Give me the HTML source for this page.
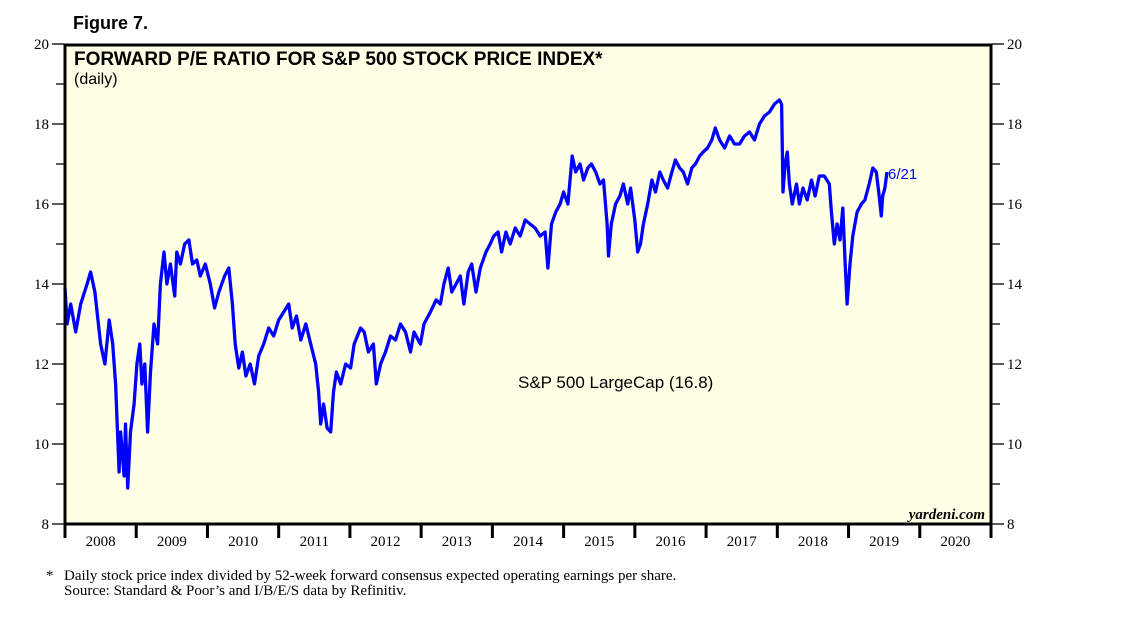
<!DOCTYPE html>
<html><head><meta charset="utf-8"><style>
body{margin:0;background:#fff;width:1138px;height:621px;overflow:hidden}
svg text{font-family:"Liberation Sans",sans-serif}
</style></head><body>
<svg width="1138" height="621" xmlns="http://www.w3.org/2000/svg">
<text x="73" y="29" font-size="18" font-weight="bold">Figure 7.</text>
<rect x="65" y="45" width="926" height="479" fill="#ffffe6"/>
<g id="ticks"></g>
<polyline id="series" fill="none" stroke="#0000ff" stroke-width="3.3" stroke-linejoin="round"/>
<rect x="65" y="45" width="926" height="479" fill="none" stroke="#000" stroke-width="3"/>
<text x="74" y="65" font-size="19" font-weight="bold">FORWARD P/E RATIO FOR S&amp;P 500 STOCK PRICE INDEX*</text>
<text x="74" y="84" font-size="16">(daily)</text>
<text x="518" y="388" font-size="17">S&amp;P 500 LargeCap (16.8)</text>
<text x="888" y="179" font-size="15" fill="#0000ff">6/21</text>
<text x="985" y="519" font-size="15" font-weight="bold" font-style="italic" text-anchor="end" style="font-family:'Liberation Serif',serif">yardeni.com</text>
<text x="46" y="580" font-size="15" style="font-family:'Liberation Serif',serif">*</text>
<text x="64" y="580" font-size="15" style="font-family:'Liberation Serif',serif">Daily stock price index divided by 52-week forward consensus expected operating earnings per share.</text>
<text x="64" y="595" font-size="15" style="font-family:'Liberation Serif',serif">Source: Standard &amp; Poor’s and I/B/E/S data by Refinitiv.</text>
</svg>
<script>
const dates=[2008.00,2008.03,2008.08,2008.15,2008.22,2008.31,2008.36,2008.42,2008.50,2008.56,2008.62,2008.67,2008.71,2008.76,2008.78,2008.83,2008.85,2008.88,2008.92,2008.97,
2009.01,2009.05,2009.08,2009.12,2009.16,2009.20,2009.25,2009.30,2009.34,2009.39,2009.43,2009.48,2009.54,2009.57,2009.62,2009.68,2009.74,2009.79,2009.85,2009.90,2009.97,
2010.04,2010.10,2010.16,2010.24,2010.30,2010.35,2010.39,2010.44,2010.49,2010.54,2010.60,2010.66,2010.72,2010.79,2010.86,2010.93,
2011.00,2011.07,2011.14,2011.19,2011.25,2011.31,2011.38,2011.45,2011.52,2011.56,2011.59,2011.63,2011.68,2011.73,2011.77,2011.81,2011.87,2011.94,
2012.01,2012.06,2012.15,2012.20,2012.26,2012.33,2012.37,2012.43,2012.50,2012.57,2012.64,2012.71,2012.78,2012.85,2012.90,2012.99,
2013.04,2013.13,2013.21,2013.27,2013.32,2013.38,2013.43,2013.49,2013.55,2013.60,2013.66,2013.71,2013.77,2013.83,2013.91,2013.97,
2014.02,2014.08,2014.13,2014.19,2014.25,2014.32,2014.39,2014.46,2014.53,2014.60,2014.67,2014.74,2014.78,2014.83,2014.89,2014.95,
2015.00,2015.06,2015.12,2015.17,2015.23,2015.28,2015.34,2015.39,2015.45,2015.51,2015.56,2015.61,2015.63,2015.67,2015.73,2015.79,2015.84,2015.90,2015.94,
2016.00,2016.04,2016.08,2016.12,2016.18,2016.24,2016.29,2016.35,2016.40,2016.46,2016.52,2016.57,2016.63,2016.68,2016.74,2016.80,2016.85,2016.91,2016.96,
2017.02,2017.08,2017.13,2017.19,2017.26,2017.33,2017.40,2017.47,2017.54,2017.61,2017.68,2017.75,2017.82,2017.89,2017.96,
2018.03,2018.06,2018.08,2018.11,2018.14,2018.17,2018.21,2018.27,2018.31,2018.36,2018.42,2018.48,2018.53,2018.59,2018.66,2018.73,2018.76,2018.80,2018.84,2018.88,2018.92,2018.95,2018.98,
2019.02,2019.06,2019.12,2019.18,2019.23,2019.29,2019.34,2019.39,2019.43,2019.46,2019.48,2019.51,2019.54];
const peValues=[13.9,13.0,13.5,12.8,13.5,14.0,14.3,13.8,12.5,12.0,13.1,12.5,11.5,9.3,10.3,9.2,10.5,8.9,10.3,11.0,
12.0,12.5,11.5,12.0,10.3,11.8,13.0,12.5,14.0,14.8,14.0,14.5,13.7,14.8,14.5,15.0,15.1,14.5,14.6,14.2,14.5,
14.0,13.4,13.8,14.2,14.4,13.5,12.5,11.9,12.3,11.7,12.0,11.5,12.2,12.5,12.9,12.7,
13.1,13.3,13.5,12.9,13.2,12.6,13.0,12.5,12.0,11.3,10.5,11.0,10.4,10.3,11.3,11.8,11.5,12.0,
11.9,12.5,12.9,12.8,12.3,12.5,11.5,12.0,12.3,12.7,12.6,13.0,12.8,12.3,12.8,12.5,
13.0,13.3,13.6,13.5,14.0,14.4,13.8,14.0,14.2,13.5,14.3,14.5,13.8,14.4,14.8,15.0,
15.2,15.3,14.8,15.3,15.0,15.4,15.2,15.6,15.5,15.4,15.2,15.3,14.4,15.5,15.8,16.0,
16.3,16.0,17.2,16.8,17.0,16.6,16.9,17.0,16.8,16.5,16.6,15.5,14.7,15.5,16.0,16.2,16.5,16.0,16.4,
15.6,14.8,15.0,15.5,16.0,16.6,16.3,16.8,16.6,16.4,16.8,17.1,16.9,16.8,16.5,16.9,17.0,17.2,17.3,
17.4,17.6,17.9,17.6,17.4,17.7,17.5,17.5,17.7,17.8,17.6,18.0,18.2,18.3,18.5,
18.6,18.5,16.3,17.0,17.3,16.5,16.0,16.5,16.0,16.4,16.1,16.6,16.2,16.7,16.7,16.5,15.8,15.0,15.5,15.1,15.9,14.6,13.5,
14.5,15.2,15.8,16.0,16.1,16.5,16.9,16.8,16.2,15.7,16.2,16.4,16.8];
const yTicks=[8,10,12,14,16,18,20];
const yearLabels=["2008","2009","2010","2011","2012","2013","2014","2015","2016","2017","2018","2019","2020"];

const X0=65,X1=991,Y0=524,Y1=44;
const xS=v=>X0+(v-2008)/13*(X1-X0);
const yS=v=>Y0-(v-8)/12*(Y0-Y1);
const NS="http://www.w3.org/2000/svg";
const g=document.getElementById('ticks');
function mk(t,a){const e=document.createElementNS(NS,t);for(const k in a)e.setAttribute(k,a[k]);g.appendChild(e);return e;}
for(let v=8;v<=20;v++){
  const y=yS(v),major=v%2===0;
  const l=mk('line',{x1:major?52:56,x2:64,y1:y,y2:y,stroke:'#000','stroke-width':1.3});
  
  
  const r=mk('line',{x1:992,x2:major?1004:1000,y1:y,y2:y,stroke:'#000','stroke-width':1.3});
  
  
}
yTicks.forEach(v=>{
  const y=yS(v);
  const a=mk('text',{x:49,y:y+5,'font-size':15,'text-anchor':'end',style:"font-family:'Liberation Serif',serif"});
  a.textContent=v;
  
  
  const b=mk('text',{x:1007,y:y+5,'font-size':15,style:"font-family:'Liberation Serif',serif"});
  b.textContent=v;
  
  
});
for(let i=0;i<=13;i++){
  const x=xS(2008+i);
  const t=mk('line',{x1:x,x2:x,y1:524,y2:538,stroke:'#000','stroke-width':3});
  
  
}
yearLabels.forEach((s,i)=>{
  const t=mk('text',{x:xS(2008+i+0.5),y:546,'font-size':15,'text-anchor':'middle',style:"font-family:'Liberation Serif',serif"});
  t.textContent=s;
  
  
});
document.getElementById('series').setAttribute('points',dates.map((d,i)=>xS(d).toFixed(1)+','+yS(peValues[i]).toFixed(1)).join(' '));
</script>
</body></html>
